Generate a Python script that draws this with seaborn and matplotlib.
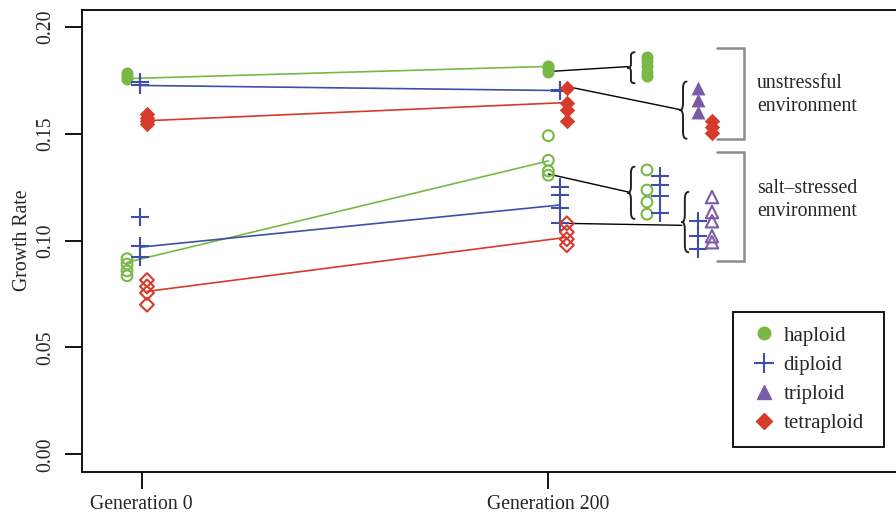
import numpy as np
import pandas as pd
import matplotlib
matplotlib.use("Agg")
import matplotlib.pyplot as plt
from matplotlib.path import Path
from matplotlib.patches import PathPatch
from matplotlib.lines import Line2D
import seaborn as sns

sns.set_style("ticks")
plt.rcParams['font.family'] = ['Liberation Serif', 'DejaVu Serif']

# ---------------- data ----------------
ploidies = ["haploid", "diploid", "triploid", "tetraploid"]
gen_labels = ["Generation 0", "Generation 200"]
gen_ticks = [0, 200]

# unstressful environment: individual lines
uns_gen0_haploid = [0.1785, 0.1770, 0.1755]
uns_gen0_diploid = [0.1740, 0.1725]
uns_gen0_tetraploid = [0.1590, 0.1575, 0.1560, 0.1545]
uns_gen200_haploid = [0.1818, 0.1805, 0.1790]
uns_gen200_diploid = [0.1705, 0.1700]
uns_gen200_tetraploid = [0.1715, 0.1645, 0.1610, 0.1560]
# salt-stressed environment
salt_gen0_haploid = [0.0915, 0.0890, 0.0858, 0.0835]
salt_gen0_diploid = [0.1110, 0.0974, 0.0925]
salt_gen0_tetraploid = [0.0815, 0.0785, 0.0755, 0.0700]
salt_gen200_haploid = [0.1490, 0.1375, 0.1325, 0.1305]
salt_gen200_diploid = [0.1250, 0.1215, 0.1150, 0.1080]
salt_gen200_tetraploid = [0.1080, 0.1039, 0.1006, 0.0978]

# group means (trend lines), gen0 -> gen200
uns_mean_haploid = [0.1757, 0.1814]
uns_mean_diploid = [0.1725, 0.1701]
uns_mean_tetraploid = [0.1560, 0.1645]
salt_mean_haploid = [0.0898, 0.1372]
salt_mean_diploid = [0.0969, 0.1166]
salt_mean_tetraploid = [0.0762, 0.1015]

# comparison clusters on the right
cmp_uns_haploid = [0.1856, 0.1837, 0.1814, 0.1790, 0.1767]
cmp_uns_triploid = [0.1711, 0.1655, 0.1603]
cmp_uns_tetraploid = [0.1560, 0.1532, 0.1504]
cmp_salt_haploid = [0.1330, 0.1236, 0.1180, 0.1123]
cmp_salt_diploid_a = [0.1302, 0.1260, 0.1208, 0.1128]
cmp_salt_diploid_b = [0.1090, 0.1020, 0.0960]
cmp_salt_triploid = [0.1203, 0.1133, 0.1090, 0.1020, 0.0992]

env_labels = ["unstressful\nenvironment", "salt\u2013stressed\nenvironment"]

# ---------------- style / layout ----------------
colors = {"haploid": "#79B845", "diploid": "#3F4FA8",
          "triploid": "#7C5BA6", "tetraploid": "#D63B2B"}
markers = {"haploid": "o", "diploid": "+", "triploid": "^", "tetraploid": "D"}
sizes = {"haploid": 75, "diploid": 160, "triploid": 100, "tetraploid": 62}
xpos0 = {"haploid": -7.2, "diploid": -0.6, "tetraploid": 2.6}
xpos200 = {"haploid": 200.0, "diploid": 205.7, "tetraploid": 209.1}
xc1, xc2, xc3, xc4 = 248.5, 254.9, 273.6, 280.5
FS = 14.2

fig = plt.figure(figsize=(8.96, 5.15), dpi=100)
ax = fig.add_axes([81.7 / 896, 43.5 / 515, 1 - 81.7 / 896, 462 / 515])


def pts(kind, x, vals, filled=True):
    df = pd.DataFrame({"x": [x] * len(vals), "y": vals})
    c = colors[kind]
    m = markers[kind]
    if m == "+":
        sns.scatterplot(data=df, x="x", y="y", marker="+", color=c, s=sizes[kind],
                        linewidth=1.5, ax=ax, zorder=4)
    elif filled:
        sns.scatterplot(data=df, x="x", y="y", marker=m, color=c, s=sizes[kind],
                        linewidth=0, ax=ax, zorder=4)
    else:
        sns.scatterplot(data=df, x="x", y="y", marker=m, s=sizes[kind] * 0.8,
                        facecolor="none", edgecolor=c, linewidth=1.5, ax=ax, zorder=4)


def trend(kind, x0, x1, vals):
    df = pd.DataFrame({"x": [x0, x1], "y": vals})
    sns.lineplot(data=df, x="x", y="y", color=colors[kind], linewidth=1.2, ax=ax, zorder=3)


for kind, m_u, m_s in [("haploid", uns_mean_haploid, salt_mean_haploid),
                       ("diploid", uns_mean_diploid, salt_mean_diploid),
                       ("tetraploid", uns_mean_tetraploid, salt_mean_tetraploid)]:
    trend(kind, xpos0[kind], xpos200[kind], m_u)
    trend(kind, xpos0[kind], xpos200[kind], m_s)

pts("haploid", xpos0["haploid"], uns_gen0_haploid)
pts("diploid", xpos0["diploid"], uns_gen0_diploid)
pts("tetraploid", xpos0["tetraploid"], uns_gen0_tetraploid)
pts("haploid", xpos200["haploid"], uns_gen200_haploid)
pts("diploid", xpos200["diploid"], uns_gen200_diploid)
pts("tetraploid", xpos200["tetraploid"], uns_gen200_tetraploid)
pts("haploid", xpos0["haploid"], salt_gen0_haploid, False)
pts("diploid", xpos0["diploid"], salt_gen0_diploid, False)
pts("tetraploid", xpos0["tetraploid"], salt_gen0_tetraploid, False)
pts("haploid", xpos200["haploid"], salt_gen200_haploid, False)
pts("diploid", xpos200["diploid"], salt_gen200_diploid, False)
pts("tetraploid", xpos200["tetraploid"], salt_gen200_tetraploid, False)

pts("haploid", xc1, cmp_uns_haploid)
pts("triploid", xc3, cmp_uns_triploid)
pts("tetraploid", xc4, cmp_uns_tetraploid)
pts("haploid", xc1, cmp_salt_haploid, False)
pts("diploid", xc2, cmp_salt_diploid_a, False)
pts("diploid", xc3, cmp_salt_diploid_b, False)
pts("triploid", xc4, cmp_salt_triploid, False)

# connectors
for (xa, ya), (xb, yb) in [((200, 0.1790), (239.2, 0.1813)),
                           ((209.1, 0.1720), (264.8, 0.1612)),
                           ((200, 0.1311), (239.2, 0.1227)),
                           ((209.1, 0.1080), (265.7, 0.1071))]:
    ax.plot([xa, xb], [ya, yb], color="black", lw=1.0, zorder=2)


def brace(x_tip, y_top, y_bot, w=3.2):
    ym = (y_top + y_bot) / 2
    c = 0.12 * (y_top - y_bot)
    xs = x_tip + w * 0.45
    codes = [Path.MOVETO, Path.CURVE3, Path.CURVE3, Path.LINETO,
             Path.CURVE3, Path.CURVE3,
             Path.MOVETO, Path.CURVE3, Path.CURVE3, Path.LINETO,
             Path.CURVE3, Path.CURVE3]
    verts = [(x_tip + w, y_top), (xs, y_top), (xs, y_top - c),
             (xs, ym + c), (xs, ym), (x_tip, ym),
             (x_tip, ym), (xs, ym), (xs, ym - c),
             (xs, y_bot + c), (xs, y_bot), (x_tip + w, y_bot)]
    ax.add_patch(PathPatch(Path(verts, codes), fill=False, lw=1.4,
                           edgecolor="#222222", zorder=3, capstyle="round"))


brace(239.2, 0.1880, 0.1735)
brace(264.8, 0.1743, 0.1476)
brace(239.2, 0.1345, 0.1101)
brace(265.7, 0.1227, 0.0945)

# gray environment brackets
for ytop, ybot in [(0.1898, 0.1476), (0.1415, 0.0903)]:
    ax.plot([282.9, 296.2, 296.2, 282.9], [ytop, ytop, ybot, ybot],
            color="#8C8C8C", lw=1.8, solid_joinstyle="miter", zorder=2)
ax.text(302.6, 0.1680, env_labels[0], fontsize=FS,
        va="center", ha="left", linespacing=1.3)
ax.text(302.6, 0.1188, env_labels[1], fontsize=FS,
        va="center", ha="left", linespacing=1.3)

# axes
ax.set_xlim(-29.5, 371)
ax.set_ylim(-0.008, 0.208)
ax.set_xticks(gen_ticks)
ax.set_xticklabels(gen_labels, fontsize=FS)
ax.set_yticks([0.00, 0.05, 0.10, 0.15, 0.20])
ax.set_yticklabels(["0.00", "0.05", "0.10", "0.15", "0.20"], fontsize=FS,
                   rotation=90, va="center")
ax.tick_params(axis="both", length=12, width=1.3, pad=5, color="black")
ax.tick_params(axis="y", pad=7)
ax.set_xlabel("")
ax.set_ylabel("Growth Rate", fontsize=FS, labelpad=3)
for side in ["left", "bottom", "top"]:
    ax.spines[side].set_linewidth(1.3)
    ax.spines[side].set_color("black")
ax.spines["right"].set_visible(False)

handles = [Line2D([], [], marker="o", color=colors["haploid"], ls="none", ms=9),
           Line2D([], [], marker="+", color=colors["diploid"], ls="none", ms=14, mew=1.5),
           Line2D([], [], marker="^", color=colors["triploid"], ls="none", ms=10),
           Line2D([], [], marker="D", color=colors["tetraploid"], ls="none", ms=8)]
leg = fig.legend(handles, ploidies, loc="upper left",
                 bbox_to_anchor=(733 / 896, 73 / 515, 151 / 896, 130 / 515),
                 mode="expand", fontsize=15,
                 frameon=True, fancybox=False, edgecolor="black", framealpha=1,
                 handlelength=1.6, handletextpad=0.15, labelspacing=0.46,
                 borderpad=0.68, borderaxespad=0)
leg.get_frame().set_linewidth(1.3)

fig.savefig("out.png", dpi=100)
